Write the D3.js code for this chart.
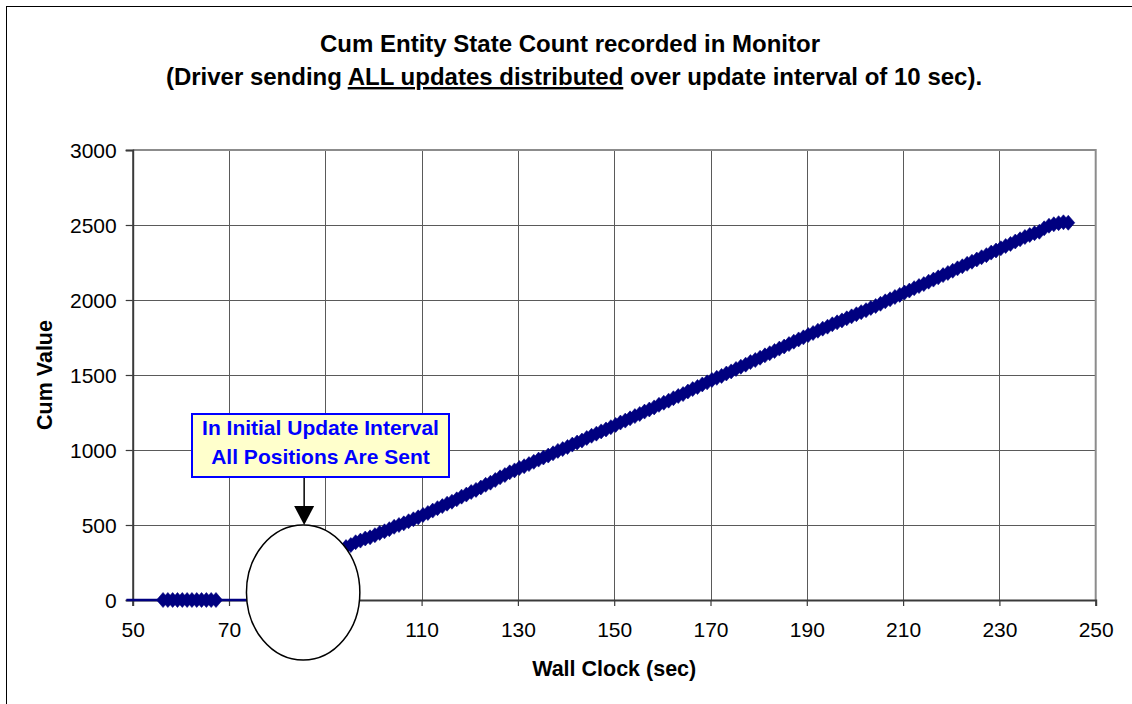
<!DOCTYPE html>
<html>
<head>
<meta charset="utf-8">
<script src="https://cdn.jsdelivr.net/npm/d3@7"></script>
<style>
  body { margin: 0; background: #fff; }
  svg text { font-family: "Liberation Sans", Arial, sans-serif; }
</style>
</head>
<body>
<div id="chart"></div>
<script>
// Cum Entity State Count: wall clock (sec) vs cumulative value

const width = 1132;
const height = 704;

// idle period before the first interval (value stays 0)
const idleClock = [48.7, 56.3, 57.3, 58.3, 59.3, 60.3, 61.3, 62.3, 63.3, 64.3, 65.3, 66.3, 67.3, 77.3, 78.3];
const idleValue = [0, 0, 0, 0, 0, 0, 0, 0, 0, 0, 0, 0, 0, 0, 0];

// initial update interval (under the circle) and the steady climb after it
const runClock = [
  79.3, 80.3, 81.3, 82.3, 83.3, 84.3, 85.3, 86.3, 87.3, 88.3, 89.3, 90.3, 91.3, 92.3, 93.3,
  94.3, 95.3, 96.3, 97.3, 98.3, 99.3, 100.3, 101.3, 102.3, 103.3, 104.3, 105.3, 106.3, 107.3, 108.3, 109.3,
  110.3, 111.3, 112.3, 113.3, 114.3, 115.3, 116.3, 117.3, 118.3, 119.3, 120.3, 121.3, 122.3, 123.3, 124.3,
  125.3, 126.3, 127.3, 128.3, 129.3, 130.3, 131.3, 132.3, 133.3, 134.3, 135.3, 136.3, 137.3, 138.3, 139.3,
  140.3, 141.3, 142.3, 143.3, 144.3, 145.3, 146.3, 147.3, 148.3, 149.3, 150.3, 151.3, 152.3, 153.3, 154.3,
  155.3, 156.3, 157.3, 158.3, 159.3, 160.3, 161.3, 162.3, 163.3, 164.3, 165.3, 166.3, 167.3, 168.3, 169.3,
  170.3, 171.3, 172.3, 173.3, 174.3, 175.3, 176.3, 177.3, 178.3, 179.3, 180.3, 181.3, 182.3, 183.3, 184.3,
  185.3, 186.3, 187.3, 188.3, 189.3, 190.3, 191.3, 192.3, 193.3, 194.3, 195.3, 196.3, 197.3, 198.3, 199.3,
  200.3, 201.3, 202.3, 203.3, 204.3, 205.3, 206.3, 207.3, 208.3, 209.3, 210.3, 211.3, 212.3, 213.3, 214.3,
  215.3, 216.3, 217.3, 218.3, 219.3, 220.3, 221.3, 222.3, 223.3, 224.3, 225.3, 226.3, 227.3, 228.3, 229.3,
  230.3, 231.3, 232.3, 233.3, 234.3, 235.3, 236.3, 237.3, 238.3, 239.3, 240.3, 241.3, 242.3, 243.3, 244.3
];
const runValue = [
  95, 140, 160, 178, 192, 205, 220, 236, 248, 262, 276, 290, 305, 318, 335,
  353, 366, 385, 396, 410, 418, 432, 447, 458, 472, 488, 500, 511, 525, 538, 551,
  567, 580, 596, 612, 626, 642, 655, 671, 689, 703, 720, 734, 750, 768, 782,
  800, 818, 833, 851, 864, 880, 892, 906, 921, 936, 950, 963, 978, 994, 1006,
  1020, 1036, 1050, 1063, 1080, 1095, 1109, 1124, 1137, 1152, 1167, 1183, 1196, 1211, 1226,
  1240, 1256, 1270, 1284, 1301, 1315, 1329, 1345, 1360, 1373, 1390, 1406, 1420, 1437, 1451,
  1467, 1481, 1494, 1510, 1524, 1540, 1555, 1569, 1586, 1600, 1615, 1631, 1645, 1660, 1676,
  1690, 1706, 1722, 1737, 1751, 1767, 1780, 1795, 1809, 1822, 1838, 1851, 1864, 1878, 1891,
  1905, 1919, 1932, 1947, 1960, 1975, 1991, 2005, 2020, 2034, 2050, 2063, 2079, 2093, 2106,
  2122, 2136, 2151, 2166, 2180, 2195, 2211, 2225, 2241, 2255, 2270, 2285, 2299, 2316, 2330,
  2345, 2360, 2374, 2390, 2405, 2420, 2433, 2445, 2455, 2478, 2495, 2505, 2512, 2518, 2515
];

const xTicks = [50, 70, 90, 110, 130, 150, 170, 190, 210, 230, 250];
const yTicks = [0, 500, 1000, 1500, 2000, 2500, 3000];

const titleLines = ["Cum Entity State Count recorded in Monitor"];
const noteLines = ["In Initial Update Interval", "All Positions Are Sent"];

const points = idleClock.map((c, i) => ({ t: c, v: idleValue[i] }))
  .concat(runClock.map((c, i) => ({ t: c, v: runValue[i] })));

const plot = { left: 132.7, right: 1095.7, top: 150, bottom: 600 };

const x = d3.scaleLinear().domain([50, 250]).range([plot.left, plot.right]);
const y = d3.scaleLinear().domain([0, 3000]).range([plot.bottom, plot.top]);

const svg = d3.select("#chart").append("svg")
  .attr("width", width)
  .attr("height", height);

// outer chart frame (runs off the right / bottom edges)
svg.append("rect")
  .attr("x", 6.5).attr("y", 6.5)
  .attr("width", 1300).attr("height", 900)
  .attr("fill", "#fff")
  .attr("stroke", "#000")
  .attr("stroke-width", 1);

// title
const title = svg.append("text")
  .attr("text-anchor", "middle")
  .attr("font-weight", "bold")
  .attr("font-size", 24);
title.append("tspan").attr("x", 570).attr("y", 52).text(titleLines[0]);
const t2 = title.append("tspan").attr("x", 574).attr("y", 85);
t2.append("tspan").text("(Driver sending ");
t2.append("tspan").attr("text-decoration", "underline").text("ALL updates distributed");
t2.append("tspan").text(" over update interval of 10 sec).");

// grid
svg.append("g").selectAll("line")
  .data(xTicks.filter(d => d > 50 && d < 250))
  .join("line")
  .attr("x1", d => Math.round(x(d)) + 0.5).attr("x2", d => Math.round(x(d)) + 0.5)
  .attr("y1", plot.top).attr("y2", plot.bottom)
  .attr("stroke", "#5a5a5a").attr("stroke-width", 1);

svg.append("g").selectAll("line")
  .data(yTicks.filter(d => d > 0 && d < 3000))
  .join("line")
  .attr("x1", plot.left).attr("x2", plot.right)
  .attr("y1", d => Math.round(y(d)) + 0.5).attr("y2", d => Math.round(y(d)) + 0.5)
  .attr("stroke", "#5a5a5a").attr("stroke-width", 1);

// plot frame (top and right in grey)
svg.append("path")
  .attr("d", `M${plot.left},${plot.top}H${plot.right}V${plot.bottom}`)
  .attr("fill", "none")
  .attr("stroke", "#8c8c8c")
  .attr("stroke-width", 2);

// axes
const xAxis = d3.axisBottom(x).tickValues(xTicks).tickFormat(d3.format("d")).tickSize(6).tickPadding(16);
const yAxis = d3.axisLeft(y).tickValues(yTicks).tickFormat(d3.format("d")).tickSize(7).tickPadding(9);

const gx = svg.append("g").attr("transform", `translate(0,${plot.bottom})`).call(xAxis);
const gy = svg.append("g").attr("transform", `translate(${plot.left},0)`).call(yAxis);

[gx, gy].forEach(g => {
  g.select(".domain").attr("stroke", "#3a3a3a").attr("stroke-width", 2);
  g.selectAll(".tick line").attr("stroke", "#3a3a3a").attr("stroke-width", 1.2);
  g.selectAll(".tick text")
    .attr("font-family", "'Liberation Sans', Arial, sans-serif")
    .attr("font-size", 21)
    .attr("fill", "#000");
});
gy.selectAll(".tick text").attr("dy", "0.34em");

// axis titles
svg.append("text")
  .attr("x", (plot.left + plot.right) / 2)
  .attr("y", 676)
  .attr("text-anchor", "middle")
  .attr("font-weight", "bold")
  .attr("font-size", 21.5)
  .text("Wall Clock (sec)");

svg.append("text")
  .attr("transform", `translate(52,${(plot.top + plot.bottom) / 2}) rotate(-90)`)
  .attr("text-anchor", "middle")
  .attr("font-weight", "bold")
  .attr("font-size", 21.5)
  .text("Cum Value");

// series
const navy = "#000080";

svg.append("path")
  .datum(points)
  .attr("fill", "none")
  .attr("stroke", navy)
  .attr("stroke-width", 2.5)
  .attr("d", d3.line().x(d => x(d.t)).y(d => y(d.v)));

svg.append("clipPath").attr("id", "markerClip")
  .append("rect")
  .attr("x", plot.left).attr("y", plot.top - 20)
  .attr("width", plot.right - plot.left + 20).attr("height", plot.bottom - plot.top + 40);

svg.append("g")
  .attr("clip-path", "url(#markerClip)")
  .selectAll("path")
  .data(points)
  .join("path")
  .attr("transform", d => `translate(${x(d.t)},${y(d.v)})`)
  .attr("d", "M0,-7.5L6.5,0L0,7.5L-6.5,0Z")
  .attr("fill", navy)
  .attr("stroke", navy)
  .attr("stroke-width", 0.6);

// callout: circle over the initial interval
const circleX = x(85.4);
const circleY = y(50);

svg.append("ellipse")
  .attr("cx", circleX).attr("cy", circleY)
  .attr("rx", 56.7).attr("ry", 67.5)
  .attr("fill", "#fff")
  .attr("stroke", "#000")
  .attr("stroke-width", 1.5);

// arrow from the note down to the circle
const arrowTop = 478;
const arrowTip = circleY - 67.5;
svg.append("line")
  .attr("x1", circleX + 1).attr("x2", circleX + 1)
  .attr("y1", arrowTop).attr("y2", arrowTip - 15)
  .attr("stroke", "#000").attr("stroke-width", 1.5);
svg.append("path")
  .attr("d", `M${circleX + 1 - 10},${arrowTip - 19}L${circleX + 1 + 10},${arrowTip - 19}L${circleX + 1},${arrowTip}Z`)
  .attr("fill", "#000");

// note box
svg.append("rect")
  .attr("x", 192).attr("y", 414)
  .attr("width", 257).attr("height", 63)
  .attr("fill", "#ffffcc")
  .attr("stroke", "#0000ff")
  .attr("stroke-width", 2);

svg.append("g").selectAll("text")
  .data(noteLines)
  .join("text")
  .attr("x", 320.5)
  .attr("y", (d, i) => 435 + i * 29)
  .attr("text-anchor", "middle")
  .attr("font-weight", "bold")
  .attr("font-size", 21)
  .attr("fill", "#0000ff")
  .text(d => d);
</script>
</body>
</html>
